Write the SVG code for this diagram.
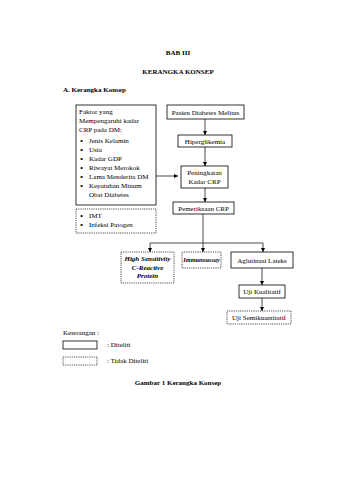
<svg xmlns="http://www.w3.org/2000/svg" width="339" height="480" viewBox="0 0 339 480">
<style>
text{font-family:"Liberation Serif","Times New Roman",serif;font-size:7px;fill:#000}
.b{font-weight:bold}
.c{text-anchor:middle}
.bi{font-weight:bold;font-style:italic}
.bu{font-size:9px}
.box{fill:#fff;stroke:#000;stroke-width:0.8}
.dbox{fill:#fff;stroke:#000;stroke-width:0.7;stroke-dasharray:1.2 1}
.ln{fill:none;stroke:#000;stroke-width:0.7}
</style>
<defs>
<marker id="ar" viewBox="0 0 6 6" refX="6" refY="3" markerWidth="4" markerHeight="4" orient="auto" markerUnits="userSpaceOnUse">
<path d="M0,0 L6,3 L0,6 Z" fill="#000"/>
</marker>
</defs>
<rect width="339" height="480" fill="#fff"/>
<g id="titles">
<text class="b c" x="178" y="55">BAB III</text>
<text class="b c" x="178" y="74">KERANGKA KONSEP</text>
<text class="b" x="63" y="92">A.  Kerangka Konsep</text>
</g>
<g id="connectors">
<line class="ln" x1="205" y1="119" x2="205" y2="135" marker-end="url(#ar)"/>
<line class="ln" x1="205" y1="147" x2="205" y2="166" marker-end="url(#ar)"/>
<line class="ln" x1="205" y1="188" x2="205" y2="202" marker-end="url(#ar)"/>
<line class="ln" x1="156" y1="176" x2="178" y2="176" marker-end="url(#ar)"/>
<line class="ln" x1="203" y1="214" x2="203" y2="252" marker-end="url(#ar)"/>
<polyline class="ln" points="150,243 263,243 263,252" marker-end="url(#ar)"/>
<line class="ln" x1="150" y1="243" x2="150" y2="252" marker-end="url(#ar)"/>
<line class="ln" x1="262" y1="268" x2="262" y2="285" marker-end="url(#ar)"/>
<line class="ln" x1="262" y1="298" x2="262" y2="311" marker-end="url(#ar)"/>
</g>
<g id="faktor">
<rect class="box" x="76" y="105" width="80" height="100"/>
<text x="79" y="113.5">Faktor yang</text>
<text x="79" y="122.5">Mempengaruhi kadar</text>
<text x="79" y="131.5">CRP pada DM:</text>
<g>
<text class="bu" x="80" y="143.5">•</text><text x="89" y="143">Jenis Kelamin</text>
<text class="bu" x="80" y="152.5">•</text><text x="89" y="152">Usia</text>
<text class="bu" x="80" y="161.5">•</text><text x="89" y="161">Kadar GDP</text>
<text class="bu" x="80" y="170.5">•</text><text x="89" y="170">Riwayat Merokok</text>
<text class="bu" x="80" y="179.5">•</text><text x="89" y="179">Lama Menderita DM</text>
<text class="bu" x="80" y="188.5">•</text><text x="89" y="188">Kepatuhan Minum</text>
<text x="89" y="196.5">Obat Diabetes</text>
</g>
</g>
<g id="faktor-lain">
<rect class="dbox" x="76" y="209" width="80" height="24"/>
<text class="bu" x="80" y="218.5">•</text><text x="89" y="218">IMT</text>
<text class="bu" x="80" y="227.5">•</text><text x="89" y="227">Infeksi Patogen</text>
</g>
<g id="pasien">
<rect class="box" x="167" y="105" width="77" height="14"/>
<text class="c" x="205.5" y="114.5">Pasien Diabetes Melitus</text>
</g>
<g id="hiperglikemia">
<rect class="box" x="178" y="135" width="54" height="12"/>
<text class="c" x="205" y="143.5">Hiperglikemia</text>
</g>
<g id="peningkatan">
<rect class="box" x="181" y="166" width="47" height="22"/>
<text class="c" x="204.5" y="175">Peningkatan</text>
<text class="c" x="204.5" y="184">Kadar CRP</text>
</g>
<g id="pemeriksaan">
<rect class="box" x="173" y="202" width="61" height="12"/>
<text class="c" x="203.5" y="210.5">Pemeriksaan CRP</text>
</g>
<g id="hscrp">
<rect class="dbox" x="121" y="252" width="53" height="31"/>
<text class="bi c" x="147.5" y="261">High Sensitivity</text>
<text class="bi c" x="147.5" y="269.5">C-Reactive</text>
<text class="bi c" x="147.5" y="278">Protein</text>
</g>
<g id="immunoassay">
<rect class="dbox" x="182" y="252" width="39" height="16"/>
<text class="bi c" x="201.5" y="261.5" style="font-size:6.3px">Immunoassay</text>
</g>
<g id="aglutinasi">
<rect class="box" x="231" y="252" width="62" height="16"/>
<text class="c" x="262" y="262.5">Aglutinasi Lateks</text>
</g>
<g id="kualitatif">
<rect class="box" x="239" y="285" width="46" height="13"/>
<text class="c" x="262" y="294">Uji Kualitatif</text>
</g>
<g id="semikuantitatif">
<rect class="dbox" x="227" y="311" width="64" height="13"/>
<text class="c" x="259" y="320">Uji Semikuantitatif</text>
</g>
<g id="legend">
<text x="63" y="335">Keterangan    :</text>
<rect class="box" x="63" y="341" width="34" height="8"/>
<text x="107" y="347">:    Diteliti</text>
<rect class="dbox" x="63" y="357" width="34" height="8"/>
<text x="107" y="363">:    Tidak Diteliti</text>
</g>
<g id="caption">
<text class="b c" x="178" y="385">Gambar 1 Kerangka Konsep</text>
</g>
</svg>
